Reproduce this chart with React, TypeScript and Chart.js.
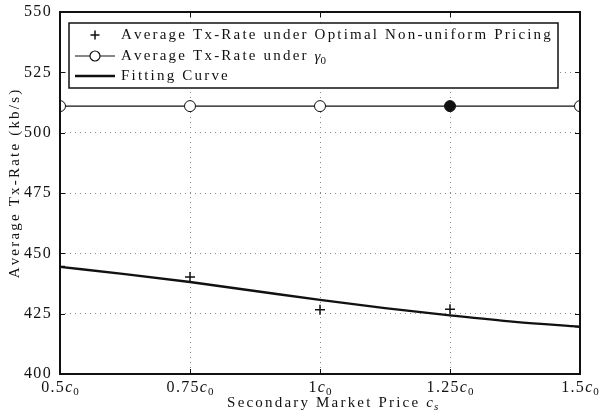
import React, { useEffect, useRef } from "react";
import { Chart, registerables } from "chart.js";

Chart.register(...registerables);

// Secondary market price, in units of c0
const prices = [0.5, 0.75, 1.0, 1.25, 1.5];
const xTickLabels = ["0.5", "0.75", "1", "1.25", "1.5"];
const yTicks = [400, 425, 450, 475, 500, 525, 550];

// Average Tx-Rate under optimal non-uniform pricing (kb/s)
const optimalRates = [444.5, 440.2, 426.6, 426.8, 419.6];
// Average Tx-Rate under gamma_0 (kb/s)
const gammaRates = [511, 511, 511, 511, 511];
// Fitting curve samples
const fitPrices = [0.5, 0.625, 0.75, 0.875, 1.0, 1.125, 1.25, 1.375, 1.5];
const fitRates = [444.4, 441.4, 438.1, 434.4, 430.7, 427.3, 424.3, 421.6, 419.6];

const legendLabels = [
  "Average Tx-Rate under Optimal Non-uniform Pricing",
  "Average Tx-Rate under ",
  "Fitting Curve",
];

const SERIF = '"Liberation Serif", "DejaVu Serif", serif';
const FS = 15;

function drawSpaced(ctx: CanvasRenderingContext2D, text: string, x: number, y: number, spacing: number) {
  let cx = x;
  for (const ch of text) {
    ctx.fillText(ch, cx, y);
    cx += ctx.measureText(ch).width + spacing;
  }
  return cx;
}

function spacedWidth(ctx: CanvasRenderingContext2D, text: string, spacing: number) {
  let w = 0;
  for (const ch of text) w += ctx.measureText(ch).width + spacing;
  return w;
}

const decorPlugin = {
  id: "decor",
  afterDraw(chart: any) {
    const ctx: CanvasRenderingContext2D = chart.ctx;
    const { left, right, top, bottom } = chart.chartArea;
    const xs = chart.scales.x;
    const ys = chart.scales.y;
    ctx.save();
    ctx.fillStyle = "#111";
    ctx.strokeStyle = "#111";

    // letter spacing chosen so the longest legend entry spans its box
    ctx.font = `${FS}px ${SERIF}`;
    const natural = spacedWidth(ctx, legendLabels[0], 0);
    const sp = (432 - natural) / legendLabels[0].length;

    // inward ticks
    ctx.lineWidth = 1;
    ctx.beginPath();
    for (const p of prices) {
      const px = Math.round(xs.getPixelForValue(p)) + 0.5;
      ctx.moveTo(px, bottom);
      ctx.lineTo(px, bottom - 5);
      ctx.moveTo(px, top);
      ctx.lineTo(px, top + 5);
    }
    for (const v of yTicks) {
      const py = Math.round(ys.getPixelForValue(v)) + 0.5;
      ctx.moveTo(left, py);
      ctx.lineTo(left + 5, py);
      ctx.moveTo(right, py);
      ctx.lineTo(right - 5, py);
    }
    ctx.stroke();

    // frame
    ctx.lineWidth = 2;
    ctx.strokeRect(left, top, right - left, bottom - top);

    // y tick labels
    ctx.font = `${FS + 1}px ${SERIF}`;
    ctx.textBaseline = "middle";
    for (const v of yTicks) {
      const py = ys.getPixelForValue(v);
      const t = String(v);
      const w = spacedWidth(ctx, t, sp * 0.6);
      drawSpaced(ctx, t, left - 8 - w, py, sp * 0.6);
    }

    // x tick labels: number + italic c + subscript 0
    ctx.textBaseline = "alphabetic";
    prices.forEach((p, i) => {
      const px = xs.getPixelForValue(p);
      ctx.font = `${FS + 1}px ${SERIF}`;
      const nw = spacedWidth(ctx, xTickLabels[i], sp * 0.6);
      ctx.font = `italic ${FS + 1}px ${SERIF}`;
      const cw = ctx.measureText("c").width;
      ctx.font = `11px ${SERIF}`;
      const sw = ctx.measureText("0").width;
      const total = nw + cw + sw + 1;
      let cx = px - total / 2;
      const by = bottom + 18;
      ctx.font = `${FS + 1}px ${SERIF}`;
      cx = drawSpaced(ctx, xTickLabels[i], cx, by, sp * 0.6);
      ctx.font = `italic ${FS + 1}px ${SERIF}`;
      ctx.fillText("c", cx, by);
      cx += cw + 1;
      ctx.font = `11px ${SERIF}`;
      ctx.fillText("0", cx, by + 3);
    });

    // x title
    {
      ctx.font = `${FS}px ${SERIF}`;
      const main = "Secondary Market Price ";
      const mw = spacedWidth(ctx, main, sp);
      ctx.font = `italic ${FS}px ${SERIF}`;
      const cw = ctx.measureText("c").width;
      const total = mw + cw + 6;
      let cx = (left + right) / 2 + 13 - total / 2;
      const by = bottom + 33;
      ctx.font = `${FS}px ${SERIF}`;
      cx = drawSpaced(ctx, main, cx, by, sp);
      ctx.font = `italic ${FS}px ${SERIF}`;
      ctx.fillText("c", cx, by);
      ctx.font = `italic 11px ${SERIF}`;
      ctx.fillText("s", cx + cw + 1, by + 3);
    }

    // y title
    {
      ctx.save();
      ctx.translate(15, (top + bottom) / 2 - 10);
      ctx.rotate(-Math.PI / 2);
      ctx.font = `${FS}px ${SERIF}`;
      const t = "Average Tx-Rate (kb/s)";
      const w = spacedWidth(ctx, t, sp);
      ctx.textBaseline = "middle";
      drawSpaced(ctx, t, -w / 2, 0, sp);
      ctx.restore();
    }

    // legend
    {
      const lx = 69, ly = 23, lw = 489, lh = 65;
      ctx.fillStyle = "#fff";
      ctx.fillRect(lx, ly, lw, lh);
      ctx.lineWidth = 1.5;
      ctx.strokeStyle = "#111";
      ctx.strokeRect(lx, ly, lw, lh);
      ctx.fillStyle = "#111";
      const rows = [35, 56, 76];
      const sx0 = 75, sx1 = 115, tx = 121;
      // row 1: plus marker
      ctx.lineWidth = 1.5;
      ctx.beginPath();
      const mx = (sx0 + sx1) / 2;
      ctx.moveTo(mx - 4.5, rows[0]);
      ctx.lineTo(mx + 4.5, rows[0]);
      ctx.moveTo(mx, rows[0] - 4.5);
      ctx.lineTo(mx, rows[0] + 4.5);
      ctx.stroke();
      // row 2: line + circle
      ctx.lineWidth = 1.2;
      ctx.beginPath();
      ctx.moveTo(sx0, rows[1]);
      ctx.lineTo(sx1, rows[1]);
      ctx.stroke();
      ctx.beginPath();
      ctx.arc(mx, rows[1], 5, 0, Math.PI * 2);
      ctx.fillStyle = "#fff";
      ctx.fill();
      ctx.stroke();
      ctx.fillStyle = "#111";
      // row 3: thick line
      ctx.lineWidth = 2.4;
      ctx.beginPath();
      ctx.moveTo(sx0, rows[2]);
      ctx.lineTo(sx1, rows[2]);
      ctx.stroke();

      ctx.font = `${FS}px ${SERIF}`;
      ctx.textBaseline = "middle";
      drawSpaced(ctx, legendLabels[0], tx, rows[0], sp);
      let ex = drawSpaced(ctx, legendLabels[1], tx, rows[1], sp);
      ctx.font = `italic ${FS}px ${SERIF}`;
      ctx.fillText("\u03B3", ex, rows[1] + 1);
      ex += ctx.measureText("\u03B3").width;
      ctx.font = `11px ${SERIF}`;
      ctx.fillText("0", ex, rows[1] + 5);
      ctx.font = `${FS}px ${SERIF}`;
      drawSpaced(ctx, legendLabels[2], tx, rows[2], sp);
    }
    ctx.restore();
  },
};

export default function App() {
  const ref = useRef<HTMLCanvasElement | null>(null);

  useEffect(() => {
    document.body.style.margin = "0";
    if (!ref.current) return;
    const chart = new Chart(ref.current, {
      type: "scatter",
      data: {
        datasets: [
          {
            label: legendLabels[2],
            data: fitPrices.map((x, i) => ({ x, y: fitRates[i] })),
            showLine: true,
            borderColor: "#111",
            borderWidth: 2.4,
            pointRadius: 0,
            cubicInterpolationMode: "monotone",
          },
          {
            label: legendLabels[0],
            data: prices.map((x, i) => ({ x, y: optimalRates[i] })),
            showLine: false,
            pointStyle: "cross",
            pointRadius: 5,
            borderColor: "#111",
            borderWidth: 1.5,
          },
          {
            label: legendLabels[1],
            data: prices.map((x, i) => ({ x, y: gammaRates[i] })),
            showLine: true,
            borderColor: "#111",
            borderWidth: 1.2,
            pointStyle: "circle",
            pointRadius: 5.5,
            pointBorderWidth: 1,
            pointBackgroundColor: prices.map((_, i) => (i === 3 ? "#111" : "#fff")),
          },
        ],
      },
      options: {
        animation: false,
        responsive: false,
        maintainAspectRatio: false,
        layout: { padding: { top: 12, right: 22, left: 0, bottom: 0 } },
        plugins: { legend: { display: false }, tooltip: { enabled: false } },
        scales: {
          x: {
            type: "linear",
            min: 0.5,
            max: 1.5,
            afterBuildTicks: (s: any) => {
              s.ticks = prices.map((v) => ({ value: v }));
            },
            afterFit: (s: any) => {
              s.height = 43;
            },
            ticks: { display: false },
            grid: { color: "#888", lineWidth: 1, drawTicks: false },
            border: { display: false, dash: [1, 4] },
          },
          y: {
            min: 400,
            max: 550,
            afterBuildTicks: (s: any) => {
              s.ticks = yTicks.map((v) => ({ value: v }));
            },
            afterFit: (s: any) => {
              s.width = 60;
            },
            ticks: { display: false },
            grid: { color: "#888", lineWidth: 1, drawTicks: false },
            border: { display: false, dash: [1, 4] },
          },
        },
      },
      plugins: [decorPlugin],
    });
    return () => chart.destroy();
  }, []);

  return (
    <div style={{ width: 602, height: 417, background: "#fff" }}>
      <canvas ref={ref} width={602} height={417} style={{ display: "block" }} />
    </div>
  );
}
